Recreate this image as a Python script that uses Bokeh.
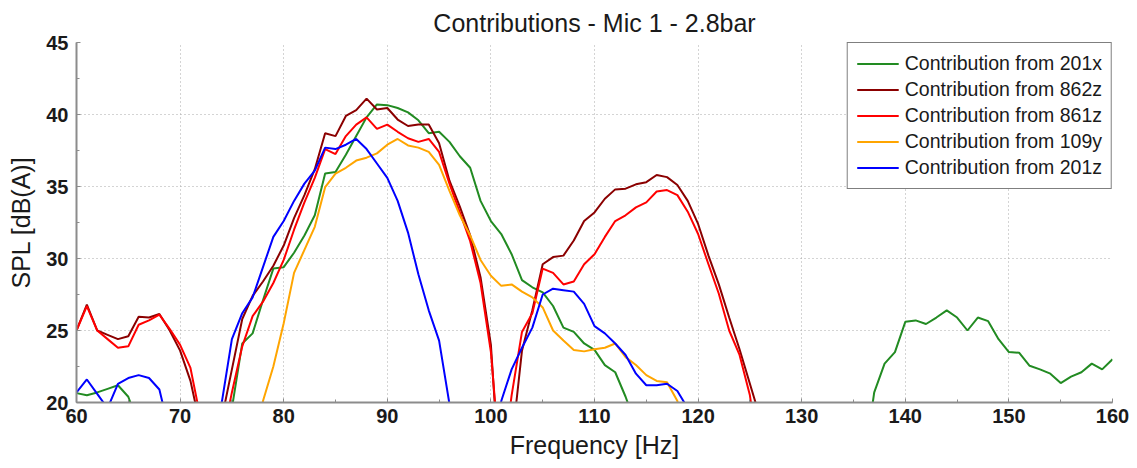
from bokeh.plotting import figure
from bokeh.models import Range1d, Legend, LegendItem, FixedTicker
from bokeh.embed import file_html
from bokeh.resources import INLINE

nan = float("nan")

freq = list(range(60, 161))

c201x = [20.65, 20.5, 20.7, 20.95, 21.2, 20.4, 18.4, nan, nan, nan,
         nan, nan, nan, nan, nan, 19.6, 24.1, 24.8, 27.1, 29.3,
         29.4, 30.4, 31.6, 33.0, 35.9, 36.0, 37.2, 38.5, 39.8, 40.7,
         40.65, 40.45, 40.15, 39.6, 38.7, 38.8, 38.1, 37.1, 36.3, 34.0,
         32.6, 31.7, 30.3, 28.5, 28.0, 27.65, 26.7, 25.2, 24.9, 24.1,
         23.65, 22.6, 22.1, 20.4, 18.4, nan, nan, nan, nan, nan,
         nan, nan, nan, nan, nan, nan, nan, nan, nan, nan,
         nan, nan, nan, nan, nan, nan, 15.7, 20.7, 22.7, 23.5,
         25.6, 25.7, 25.45, 25.9, 26.4, 25.9, 25.0, 25.9, 25.65, 24.4,
         23.5, 23.45, 22.55, 22.3, 22.0, 21.35, 21.8, 22.1, 22.7, 22.3,
         23.0]

c862z = [25.0, 26.8, 25.0, 24.7, 24.4, 24.6, 25.95, 25.9, 26.15, 25.0,
         23.6, 21.5, 18.2, nan, 18.8, 22.3, 25.8, 27.4, 28.4, 29.5,
         30.9, 32.8, 34.4, 36.2, 38.7, 38.5, 39.9, 40.3, 41.1, 40.35,
         40.45, 39.65, 39.2, 39.3, 39.3, 38.0, 35.4, 33.6, 31.6, 28.7,
         24.0, 13.0, 17.0, 23.6, 26.4, 29.6, 30.1, 30.2, 31.25, 32.6,
         33.2, 34.15, 34.8, 34.85, 35.15, 35.3, 35.8, 35.65, 35.1, 34.0,
         32.4, 30.2, 28.2, 25.9, 23.7, 21.3, 18.9, nan, nan, nan,
         nan, nan, nan, nan, nan, nan, nan, nan, nan, nan,
         nan, nan, nan, nan, nan, nan, nan, nan, nan, nan,
         nan, nan, nan, nan, nan, nan, nan, nan, nan, nan,
         nan]

c861z = [25.0, 26.7, 25.0, 24.4, 23.8, 23.9, 25.4, 25.7, 26.1, 25.1,
         24.0, 22.4, 18.8, nan, 17.2, 20.7, 23.9, 26.0, 27.0, 28.3,
         29.9, 32.0, 33.9, 35.6, 37.6, 37.25, 38.5, 39.3, 39.8, 39.0,
         39.3, 38.8, 38.35, 38.1, 38.3, 37.4, 35.2, 33.2, 31.2, 28.3,
         23.5, 14.8, 20.5, 24.9, 26.2, 29.3, 29.0, 28.2, 28.4, 29.6,
         30.3, 31.5, 32.6, 33.0, 33.55, 33.9, 34.65, 34.75, 34.4, 33.25,
         31.7, 29.6, 27.55, 25.0, 23.3, 20.5, 15.5, nan, nan, nan,
         nan, nan, nan, nan, nan, nan, nan, nan, nan, nan,
         nan, nan, nan, nan, nan, nan, nan, nan, nan, nan,
         nan, nan, nan, nan, nan, nan, nan, nan, nan, nan,
         nan]

c109y = [nan, nan, nan, nan, nan, nan, nan, nan, nan, nan,
         nan, nan, nan, nan, nan, nan, nan, 16.0, 20.1, 22.5,
         25.5, 29.0, 30.6, 32.2, 34.95, 35.9, 36.3, 36.8, 37.0, 37.3,
         37.9, 38.3, 37.85, 37.7, 37.4, 36.5, 34.7, 33.0, 31.6, 29.9,
         28.8, 28.1, 28.2, 27.7, 27.3, 26.6, 25.0, 24.3, 23.65, 23.55,
         23.7, 23.8, 24.1, 23.15, 22.6, 21.9, 21.5, 21.4, 20.1, 16.0,
         nan, nan, nan, nan, nan, nan, nan, nan, nan, nan,
         nan, nan, nan, nan, nan, nan, nan, nan, nan, nan,
         nan, nan, nan, nan, nan, nan, nan, nan, nan, nan,
         nan, nan, nan, nan, nan, nan, nan, nan, nan, nan,
         nan]

c201z = [20.7, 21.6, 20.6, 19.6, 21.3, 21.7, 21.9, 21.7, 20.9, 17.9,
         nan, nan, nan, 15.0, 19.9, 24.4, 26.2, 27.3, 29.4, 31.5,
         32.6, 34.0, 35.2, 36.1, 37.7, 37.6, 37.9, 38.3, 37.6, 36.6,
         35.6, 34.0, 31.8, 28.9, 26.4, 24.3, 19.9, 15.0, nan, nan,
         15.0, 20.1, 22.3, 23.8, 25.2, 27.5, 27.9, 27.8, 27.7, 26.85,
         25.3, 24.8, 24.1, 23.3, 22.0, 21.2, 21.2, 21.3, 20.8, 19.6,
         15.0, nan, nan, nan, nan, nan, nan, nan, nan, nan,
         nan, nan, nan, nan, nan, nan, nan, nan, nan, nan,
         nan, nan, nan, nan, nan, nan, nan, nan, nan, nan,
         nan, nan, nan, nan, nan, nan, nan, nan, nan, nan,
         nan]

series_names = ["Contribution from 201x", "Contribution from 862z", "Contribution from 861z",
                "Contribution from 109y", "Contribution from 201z"]
series_values = [c201x, c862z, c861z, c109y, c201z]
series_colors = ["#228b22", "#8b0000", "#ff0000", "#ffa500", "#0000ff"]

x_ticks = list(range(60, 161, 10))
x_minor = list(range(60, 161, 5))
y_ticks = [20, 25, 30, 35, 40, 45]
y_minor = [20 + 2.5 * i for i in range(11)]

FONT = "Liberation Sans"

p = figure(width=1137, height=468, output_backend="svg", toolbar_location=None,
           x_range=Range1d(60, 160), y_range=Range1d(20, 45),
           min_border_left=76, min_border_right=25, min_border_top=42, min_border_bottom=66,
           title="Contributions - Mic 1 - 2.8bar")
p.outline_line_color = None
p.background_fill_color = "white"
p.border_fill_color = "white"

p.title.align = "center"
p.title.text_font = FONT
p.title.text_font_size = "25px"
p.title.text_font_style = "normal"
p.title.text_color = "#1a1a1a"
p.title.standoff = 12

for ax, ticks, minor in ((p.xaxis[0], x_ticks, x_minor), (p.yaxis[0], y_ticks, y_minor)):
    ax.ticker = FixedTicker(ticks=ticks, minor_ticks=minor)
    ax.major_label_text_font = FONT
    ax.major_label_text_font_style = "bold"
    ax.major_label_text_font_size = "20px"
    ax.major_label_text_color = "#1a1a1a"
    ax.axis_label_text_font = FONT
    ax.axis_label_text_font_style = "normal"
    ax.axis_label_text_font_size = "25px"
    ax.axis_label_text_color = "#1a1a1a"
    ax.axis_line_color = "#8c8c8c"
    ax.axis_line_width = 2
    ax.major_tick_line_color = "#8c8c8c"
    ax.minor_tick_line_color = "#8c8c8c"
    ax.major_tick_in = 4
    ax.major_tick_out = 0
    ax.minor_tick_in = 3
    ax.minor_tick_out = 0

p.xaxis.axis_label = "Frequency [Hz]"
p.yaxis.axis_label = "SPL [dB(A)]"
p.xaxis.major_label_standoff = 6
p.yaxis.major_label_standoff = 8
p.xaxis.axis_label_standoff = 5
p.yaxis.axis_label_standoff = 8

for g in (p.xgrid[0], p.ygrid[0]):
    g.grid_line_color = "#a8a8a8"
    g.grid_line_dash = "1 3"
    g.grid_line_width = 1

items = []
for name, vals, col in zip(series_names, series_values, series_colors):
    r = p.line(freq, vals, line_color=col, line_width=2)
    items.append(LegendItem(label=name, renderers=[r]))

legend = Legend(items=items, location="top_right", margin=0, padding=9,
                spacing=3, label_height=23, glyph_height=23, glyph_width=42,
                label_standoff=6, border_line_color="black", border_line_width=1.5,
                background_fill_color="white", background_fill_alpha=1.0,
                label_text_font=FONT, label_text_font_size="19.5px",
                label_text_color="#1a1a1a")
p.add_layout(legend)

open("out.html", "w").write(file_html(p, INLINE))
